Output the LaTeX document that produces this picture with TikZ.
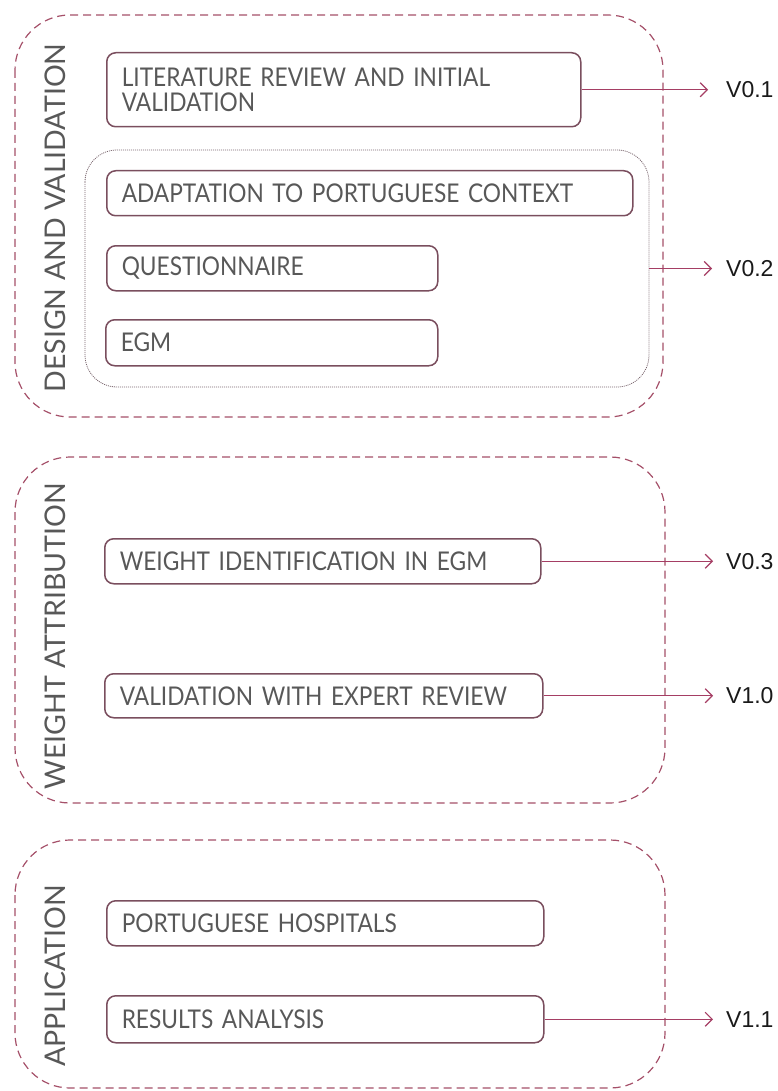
\documentclass[tikz,border=0pt]{standalone}
\usepackage{fontspec}
\setmainfont{Lato}
\newfontfamily\stepfont[FakeStretch=0.88]{Lato}
\newfontfamily\labelfont{Liberation Sans}
\usetikzlibrary{arrows.meta}

\definecolor{boxline}{RGB}{122,78,94}
\definecolor{dashline}{RGB}{165,80,105}
\definecolor{arrowcol}{RGB}{165,62,100}
\definecolor{txtgray}{RGB}{88,88,88}
\definecolor{dotline}{RGB}{120,100,108}

\tikzset{
  phase/.style={draw=dashline, line width=1.2pt, dash pattern=on 8pt off 5pt, rounded corners=55pt},
  group/.style={draw=dotline, line width=0.8pt, dash pattern=on 1pt off 1pt, rounded corners=32pt},
  stepbox/.style={draw=boxline, line width=1.5pt, rounded corners=9pt, anchor=north west,
    inner xsep=15pt, inner ysep=0pt, align=left, text=txtgray,
    font=\stepfont\fontsize{25.8}{24.5}\selectfont},
  phaselabel/.style={rotate=90, text=txtgray, font=\fontsize{28.5}{30}\selectfont, inner sep=0pt},
  version/.style={anchor=west, inner sep=0pt, text=black!90, font=\labelfont\fontsize{23}{26}\selectfont},
  outarrow/.style={draw=arrowcol, line width=1.2pt, -{Straight Barb[length=7pt,width=14pt,line width=1.2pt]}},
}

\begin{document}
\begin{tikzpicture}[x=1pt, y=-1pt]
  \useasboundingbox (0,0) rectangle (778,1091);
  \coordinate (vcol) at (726,0);

  % phase frames
  \draw[phase] (15,15) rectangle (663,417);
  \draw[phase] (15,457) rectangle (665,803);
  \draw[phase] (15,840) rectangle (665,1088);

  % phase titles
  \node[phaselabel] (pl1) at (55,218) {DESIGN AND VALIDATION};
  \node[phaselabel] (pl2) at (55,636) {WEIGHT ATTRIBUTION};
  \node[phaselabel] (pl3) at (55,976) {APPLICATION};

  % design and validation
  \node[stepbox, text width=444pt, minimum height=74pt] (lit) at (106,52)
    {LITERATURE REVIEW AND INITIAL\\VALIDATION};
  \draw[group] (85,150) rectangle (649,387);
  \node[inner sep=0pt, minimum width=564pt, minimum height=237pt] (grp) at (367,268.5) {};
  \node[stepbox, text width=496pt, minimum height=45pt] (adapt) at (106,170)
    {ADAPTATION TO PORTUGUESE CONTEXT};
  \node[stepbox, text width=301pt, minimum height=45pt] (quest) at (106,245)
    {QUESTIONNAIRE};
  \node[stepbox, text width=302pt, minimum height=46pt] (egm) at (105,319)
    {EGM};

  % weight attribution
  \node[stepbox, text width=406pt, minimum height=45pt] (wid) at (104,538)
    {WEIGHT IDENTIFICATION IN EGM};
  \node[stepbox, text width=408pt, minimum height=44pt] (vexp) at (104,673)
    {VALIDATION WITH EXPERT REVIEW};

  % application
  \node[stepbox, text width=407pt, minimum height=45pt] (hosp) at (106,900)
    {PORTUGUESE HOSPITALS};
  \node[stepbox, text width=407pt, minimum height=47pt] (res) at (106,995)
    {RESULTS ANALYSIS};

  % versions
  \node[version] (v01) at (lit.east -| vcol)  {V0.1};
  \node[version] (v02) at (grp.east -| vcol)  {V0.2};
  \node[version] (v03) at (wid.east -| vcol)  {V0.3};
  \node[version] (v10) at (vexp.east -| vcol) {V1.0};
  \node[version] (v11) at (res.east -| vcol)  {V1.1};

  \draw[outarrow] (lit.east)  -- ([xshift=-18pt]v01.west);
  \draw[outarrow] (grp.east)  -- ([xshift=-14pt]v02.west);
  \draw[outarrow] (wid.east)  -- ([xshift=-13pt]v03.west);
  \draw[outarrow] (vexp.east) -- ([xshift=-13pt]v10.west);
  \draw[outarrow] (res.east)  -- ([xshift=-13pt]v11.west);
\end{tikzpicture}
\end{document}
